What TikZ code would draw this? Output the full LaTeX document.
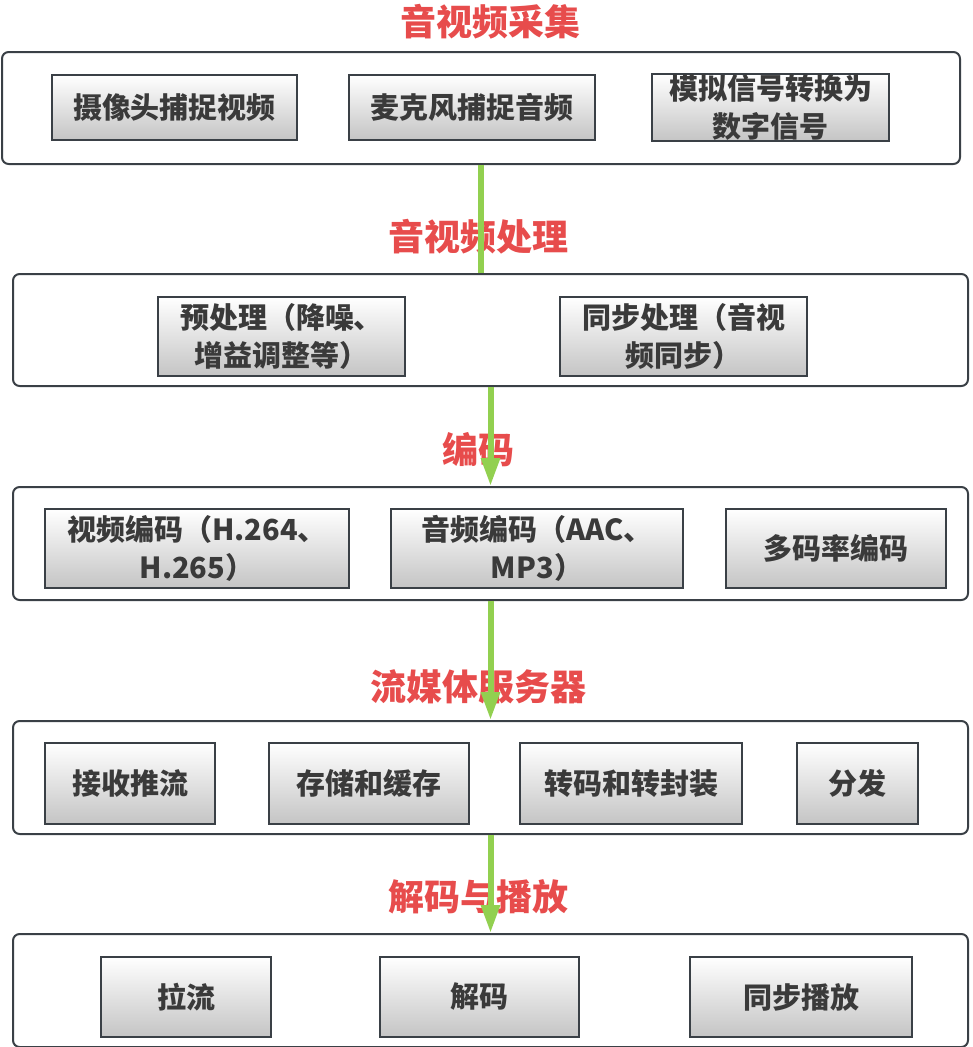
\documentclass[tikz,border=0pt]{standalone}
\usepackage{fontspec}
\setmainfont{Noto Sans CJK SC}
\usetikzlibrary{arrows.meta,fit}
\definecolor{ttlred}{RGB}{231,76,76}
\definecolor{flowgreen}{RGB}{146,208,80}
\definecolor{edge}{RGB}{58,64,70}
\definecolor{ink}{RGB}{58,58,58}
\tikzset{
  layer/.style={draw=edge,line width=1.5pt,rounded corners=5pt,inner sep=0pt},
  part/.style={draw=edge,line width=1.4pt,top color=white,bottom color=black!23,inner sep=0pt,
    label={[txt]center:#1}},
  txt/.style={text=ink,align=center,inner sep=0pt,font=\bfseries\fontsize{21.75}{28.5}\selectfont},
  ttl/.style={text=ttlred,inner sep=0pt,font=\bfseries\fontsize{27}{32}\selectfont},
  flow/.style={draw=flowgreen,line width=4.5pt},
}
\begin{document}
\begin{tikzpicture}[x=0.75pt,y=-0.75pt,>={Triangle[length=21pt,width=13.5pt]}]
\useasboundingbox (0,0) rectangle (972,1047);
% stages
\node[layer,fit={(2,52) (960,164)}] (cap) {};
\node[layer,fit={(13,274) (968,386)}] (proc) {};
\node[layer,fit={(13,487) (968,600)}] (enc) {};
\node[layer,fit={(13,721) (968,834)}] (srv) {};
\node[layer,fit={(13,934) (968,1047)}] (play) {};
% steps inside each stage
\node[part={摄像头捕捉视频},fit={(52,75) (297,140)}] (cam) {};
\node[part={麦克风捕捉音频},fit={(349,75) (595,140)}] (mic) {};
\node[part={\baselineskip=25pt 模拟信号转换为\\数字信号},fit={(652,74) (889,141)}] (adc) {};
\node[part={预处理（降噪、\\增益调整等）},fit={(158,297) (405,376)}] (pre) {};
\node[part={同步处理（音视\\频同步）},fit={(560,297) (807,376)}] (avsync) {};
\node[part={视频编码（H.264、\\H.265）},fit={(45,509) (349,588)}] (venc) {};
\node[part={音频编码（AAC、\\MP3）},fit={(391,509) (683,588)}] (aenc) {};
\node[part={多码率编码},fit={(726,509) (946,588)}] (abr) {};
\node[part={接收推流},fit={(45,743) (215,824)}] (push) {};
\node[part={存储和缓存},fit={(269,743) (469,824)}] (store) {};
\node[part={转码和转封装},fit={(520,743) (742,824)}] (trans) {};
\node[part={分发},fit={(797,743) (918,824)}] (dist) {};
\node[part={拉流},fit={(101,957) (271,1037)}] (pull) {};
\node[part={解码},fit={(380,957) (579,1037)}] (dec) {};
\node[part={同步播放},fit={(690,957) (912,1037)}] (show) {};
% stage titles
\node[ttl] (t1) at (490,22) {音视频采集};
\node[ttl] (t2) at (478,237) {音视频处理};
\node[ttl] (t3) at (478,450) {编码};
\node[ttl] (t4) at (478,687) {流媒体服务器};
\node[ttl] (t5) at (478,897) {解码与播放};
% flow
\draw[flow] (cap.south) -- (cap.south |- proc.north);
\draw[flow,->] (proc.south) -- (enc.north);
\draw[flow,->] (enc.south) -- (srv.north);
\draw[flow,->] (srv.south) -- (play.north);
\end{tikzpicture}
\end{document}
